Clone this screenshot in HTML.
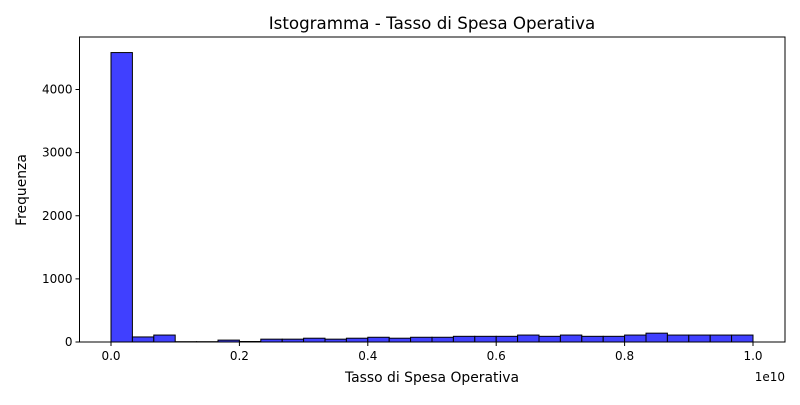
<!DOCTYPE html>
<html><head><meta charset="utf-8"><style>
body{margin:0;background:#fff;}
svg text{font-family:"DejaVu Sans","Liberation Sans",sans-serif;fill:#000;}
</style></head><body>
<svg id="chart" width="800" height="400">
<rect x="0" y="0" width="800" height="400" fill="#fff"/>
<text x="432" y="29" font-size="16.7" text-anchor="middle">Istogramma - Tasso di Spesa Operativa</text>
<g id="bars"></g>
<g id="axes"></g>
<text x="432" y="382" font-size="13.9" text-anchor="middle">Tasso di Spesa Operativa</text>
<text transform="translate(26,190) rotate(-90)" font-size="13.9" text-anchor="middle">Frequenza</text>
<text x="785" y="381" font-size="12" text-anchor="end">1e10</text>
</svg>
<script>
const counts=[4585,80,110,5,5,30,8,45,45,60,45,60,75,60,75,75,90,90,90,110,90,110,90,90,110,140,110,110,110,110];
const binStart=0, binEnd=1.0;
const xTicks=[0,0.2,0.4,0.6,0.8,1.0];
const xTickLabels=["0.0","0.2","0.4","0.6","0.8","1.0"];
const yTicks=[0,1000,2000,3000,4000];
const yTickLabels=["0","1000","2000","3000","4000"];

const L=79.5,R=785,T=37,B=342;
const x=v=>111+(v-0)*(753-111)/1.0;
const y=v=>342-v*252.5/4000;
const NS="http://www.w3.org/2000/svg";
const bars=document.getElementById('bars'),axes=document.getElementById('axes');
function mk(tag,attrs,parent){const e=document.createElementNS(NS,tag);for(const k in attrs)e.setAttribute(k,attrs[k]);parent.appendChild(e);return e;}
const w=(binEnd-binStart)/counts.length;
counts.forEach((c,i)=>{
  const x0=x(binStart+i*w),x1=x(binStart+(i+1)*w);
  const r=mk('rect',{x:x0,y:y(c),width:x1-x0,height:y(0)-y(c),fill:'#4040ff',stroke:'#000','stroke-width':1},bars);
  
  
});
const frame=mk('rect',{x:L,y:T,width:R-L,height:B-T,fill:'none',stroke:'#000','stroke-width':1},axes);


xTicks.forEach((v,i)=>{
  mk('line',{x1:x(v),x2:x(v),y1:B,y2:B+4,stroke:'#000'},axes);
  const t=mk('text',{x:x(v),y:B+18,'font-size':12,'text-anchor':'middle'},axes);
  t.textContent=xTickLabels[i];
  
  
});
yTicks.forEach((v,i)=>{
  mk('line',{x1:L-4,x2:L,y1:y(v),y2:y(v),stroke:'#000'},axes);
  const t=mk('text',{x:L-7,y:y(v)+4,'font-size':12,'text-anchor':'end'},axes);
  t.textContent=yTickLabels[i];
  
  
});
</script>
</body></html>
